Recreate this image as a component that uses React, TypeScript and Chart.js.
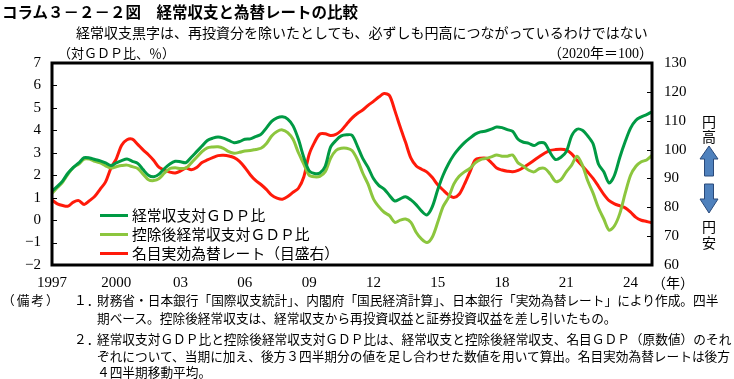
import React, { useEffect, useRef } from "react";
import { Chart, registerables } from "chart.js";
Chart.register(...registerables);

const startYear = 1997;
const quarterCount = 113;
const categories: string[] = Array.from(
  { length: quarterCount },
  (_, i) => `${startYear + Math.floor(i / 4)}Q${(i % 4) + 1}`
);
const xTickLabels = ["1997", "2000", "03", "06", "09", "12", "15", "18", "21", "24"];

// 経常収支対GDP比 (%)
const caRatio = [
  1.3, 1.5, 1.75, 2.1, 2.35, 2.55, 2.78, 2.77, 2.7, 2.64,
  2.55, 2.43, 2.55, 2.65, 2.72, 2.62, 2.53, 2.25, 2.0, 1.93,
  2.05, 2.3, 2.5, 2.62, 2.6, 2.56, 2.8, 3.05, 3.3, 3.55,
  3.65, 3.7, 3.65, 3.55, 3.45, 3.5, 3.6, 3.62, 3.72, 3.82,
  4.1, 4.4, 4.55, 4.6, 4.5, 4.2, 3.6, 2.8, 2.2, 2.08,
  2.1, 2.4, 3.25, 3.55, 3.75, 3.8, 3.78, 3.3, 2.75, 2.35,
  1.85, 1.55, 1.38, 1.1, 0.85, 0.95, 1.04, 0.9, 0.68, 0.4,
  0.23, 0.6, 1.35, 2.0, 2.5, 2.9, 3.2, 3.45, 3.65, 3.83,
  3.93, 3.97, 4.05, 4.15, 4.12, 4.03, 3.95, 3.6, 3.47, 3.42,
  3.32, 3.45, 3.42, 3.0, 2.7, 2.8, 3.05, 3.75, 4.05, 4.0,
  3.75, 3.4, 2.5, 2.15, 1.65, 2.0, 2.8, 3.5, 4.1, 4.45,
  4.6, 4.7, 4.83,
];

// 控除後経常収支対GDP比 (%)
const caAdjRatio = [
  1.2, 1.45, 1.7, 2.05, 2.35, 2.5, 2.72, 2.72, 2.62, 2.55,
  2.42, 2.32, 2.38, 2.43, 2.45, 2.38, 2.3, 2.05, 1.8, 1.76,
  1.85, 2.1, 2.3, 2.33, 2.3, 2.32, 2.55, 2.8, 3.05, 3.22,
  3.26, 3.27, 3.2, 3.05, 2.98, 3.02, 3.08, 3.1, 3.15, 3.2,
  3.4, 3.75, 3.95, 4.02, 3.9, 3.6, 3.0, 2.5, 2.0, 1.93,
  1.95, 2.15, 2.75, 3.1, 3.2, 3.2, 3.1, 2.7, 2.1, 1.6,
  0.95, 0.6, 0.35, 0.2, -0.1, 0.0, 0.05, -0.1, -0.55, -0.85,
  -1.0, -0.75, -0.1, 0.6, 1.0, 1.6, 1.95, 2.15, 2.3, 2.55,
  2.7, 2.75, 2.82, 2.9, 2.85, 2.85, 2.9, 2.55, 2.4, 2.22,
  2.15, 2.3, 2.3, 2.05, 1.72, 1.8, 2.15, 2.45, 2.85, 2.45,
  1.75, 1.2, 0.55, 0.05, -0.45, -0.25, 0.3, 1.2, 2.0, 2.4,
  2.6, 2.68, 2.88,
];

// 名目実効為替レート (2020年=100, 右目盛)
const neer = [
  82.5, 81.2, 80.6, 80.4, 81.8, 82.3, 81.0, 82.3, 83.8, 86.3,
  88.8, 93.6, 96.8, 101.5, 103.4, 103.6, 101.8, 99.9, 98.2, 96.2,
  93.8, 92.9, 92.2, 91.9, 92.6, 93.6, 93.0, 93.8, 95.5, 96.4,
  97.2, 97.9, 98.0, 97.8, 97.2, 95.9, 93.8, 91.3, 89.3, 87.9,
  86.2, 84.2, 83.2, 82.8, 83.7, 85.2, 86.6, 90.5, 98.3, 102.5,
  105.4, 105.5, 104.9, 105.3, 106.6, 108.8, 110.9, 112.5, 113.7, 115.3,
  116.7, 118.2, 119.4, 118.7, 113.5, 107.8, 102.5, 97.0, 94.3, 93.2,
  92.2, 90.3, 87.8, 86.0, 84.3, 83.4, 84.5, 88.0, 92.2, 96.4,
  97.0, 97.0, 95.5, 93.6, 92.9, 92.5, 92.3, 92.8, 93.8, 95.0,
  96.3, 97.6, 98.8, 99.7, 100.0, 100.1, 99.8, 98.5, 96.3, 94.3,
  92.2, 90.0, 87.3, 84.5, 82.3, 81.2, 80.5, 79.8, 78.3, 76.5,
  75.5, 75.1, 74.6,
];

const legendLabels = [
  "経常収支対ＧＤＰ比",
  "控除後経常収支対ＧＤＰ比",
  "名目実効為替レート（目盛右）",
];
const colors = ["#009a44", "#8cc63e", "#ff1a0a"];

const CJK = "'Noto Sans CJK JP', sans-serif";
const SERIF = "'Liberation Serif', 'Times New Roman', serif";
const MIXED = "'Liberation Serif', 'Noto Sans CJK JP', serif";

const framePlugin = {
  id: "frame",
  afterDraw(chart: any) {
    const { ctx, chartArea: a, scales } = chart;
    ctx.save();
    ctx.strokeStyle = "#000";
    ctx.lineWidth = 1;
    scales.y.ticks.forEach((_: any, i: number) => {
      const y = Math.round(scales.y.getPixelForTick(i)) + 0.5;
      ctx.beginPath();
      ctx.moveTo(a.left, y);
      ctx.lineTo(a.left + 5, y);
      ctx.stroke();
    });
    scales.y2.ticks.forEach((_: any, i: number) => {
      const y = Math.round(scales.y2.getPixelForTick(i)) + 0.5;
      ctx.beginPath();
      ctx.moveTo(a.right - 5, y);
      ctx.lineTo(a.right, y);
      ctx.stroke();
    });
    ctx.lineWidth = 3;
    ctx.strokeRect(a.left, a.top, a.right - a.left, a.bottom - a.top);
    ctx.restore();
  },
};

export default function App() {
  const ref = useRef<HTMLCanvasElement>(null);

  useEffect(() => {
    const chart = new Chart(ref.current!, {
      type: "line",
      data: {
        labels: categories,
        datasets: [
          {
            label: legendLabels[0],
            data: caRatio,
            borderColor: colors[0],
            borderWidth: 3,
            pointRadius: 0,
            tension: 0.3,
            yAxisID: "y",
          },
          {
            label: legendLabels[1],
            data: caAdjRatio,
            borderColor: colors[1],
            borderWidth: 3,
            pointRadius: 0,
            tension: 0.3,
            yAxisID: "y",
          },
          {
            label: legendLabels[2],
            data: neer,
            borderColor: colors[2],
            borderWidth: 3,
            pointRadius: 0,
            tension: 0.3,
            yAxisID: "y2",
          },
        ],
      },
      options: {
        responsive: false,
        devicePixelRatio: 1,
        animation: false,
        layout: { padding: { top: 63, left: 0, right: 0, bottom: 0 } },
        plugins: { legend: { display: false }, tooltip: { enabled: false } },
        scales: {
          x: {
            type: "category",
            offset: false,
            grid: { display: false, drawTicks: false },
            border: { display: false },
            ticks: {
              autoSkip: false,
              maxRotation: 0,
              minRotation: 0,
              padding: 9,
              color: "#000",
              font: { family: SERIF, size: 15 },
              callback: (_v: any, i: number) =>
                i % 12 === 0 ? xTickLabels[i / 12] : null,
            },
            afterFit: (s: any) => {
              s.height = 114;
            },
          },
          y: {
            position: "left",
            min: -2,
            max: 7,
            grid: { display: false, drawTicks: false },
            border: { display: false },
            ticks: {
              stepSize: 1,
              padding: 11,
              color: "#000",
              font: { family: SERIF, size: 15 },
              callback: (v: any) => String(v).replace("-", "−"),
            },
            afterFit: (s: any) => {
              s.width = 52;
            },
          },
          y2: {
            position: "right",
            min: 60,
            max: 130,
            grid: { display: false, drawTicks: false },
            border: { display: false },
            ticks: {
              stepSize: 10,
              padding: 12,
              color: "#000",
              font: { family: SERIF, size: 15 },
            },
            afterFit: (s: any) => {
              s.width = 82;
            },
          },
        },
      },
      plugins: [framePlugin],
    } as any);
    return () => chart.destroy();
  }, []);

  const abs = (left: number, top: number, extra: any = {}) => ({
    position: "absolute" as const,
    left,
    top,
    whiteSpace: "nowrap" as const,
    color: "#000",
    ...extra,
  });

  const noteStyle = { fontFamily: CJK, fontSize: 12.7, lineHeight: "15px" };
  const legendTop = [215, 234, 253];

  return (
    <div
      style={{
        position: "absolute",
        left: 0,
        top: 0,
        width: 734,
        height: 379,
        background: "#fff",
        overflow: "hidden",
        fontFamily: CJK,
      }}
    >
      <canvas
        ref={ref}
        width={734}
        height={379}
        style={{ position: "absolute", left: 0, top: 0, width: 734, height: 379 }}
      />
      <div style={abs(2, 2, { fontSize: 15.5, fontWeight: 700, lineHeight: "18px" })}>
        コラム３－２－２図　経常収支と為替レートの比較
      </div>
      <div style={abs(76, 23, { fontSize: 14, lineHeight: "18px" })}>
        経常収支黒字は、再投資分を除いたとしても、必ずしも円高につながっているわけではない
      </div>
      <div style={abs(58, 45, { fontSize: 13, lineHeight: "18px", fontFamily: MIXED })}>
        （対ＧＤＰ比、％）
      </div>
      <div style={abs(548, 45, { fontSize: 14, lineHeight: "18px", fontFamily: MIXED })}>
        （2020年＝100）
      </div>
      <div style={abs(652, 275, { fontSize: 14, lineHeight: "18px", fontFamily: MIXED })}>
        （年）
      </div>

      {legendLabels.map((t, i) => (
        <React.Fragment key={t}>
          <div
            style={{
              position: "absolute",
              left: 100,
              top: legendTop[i] - 1.5,
              width: 28,
              height: 3,
              background: colors[i],
            }}
          />
          <div style={abs(132, legendTop[i] - 9, { fontSize: 14.8, lineHeight: "18px" })}>{t}</div>
        </React.Fragment>
      ))}

      <div style={abs(702, 113, { fontSize: 14, lineHeight: "16px" })}>円</div>
      <div style={abs(702, 128, { fontSize: 14, lineHeight: "16px" })}>高</div>
      <svg
        width={30}
        height={80}
        style={{ position: "absolute", left: 694, top: 144 }}
        viewBox="0 0 30 80"
      >
        <polygon
          points="15,2 24,15 19.5,15 19.5,32 10.5,32 10.5,15 6,15"
          fill="#4f81bd"
          stroke="#2a4a7a"
          strokeWidth={1}
        />
        <polygon
          points="10.5,40 19.5,40 19.5,55 24,55 15,69 6,55 10.5,55"
          fill="#4f81bd"
          stroke="#2a4a7a"
          strokeWidth={1}
        />
      </svg>
      <div style={abs(702, 218, { fontSize: 14, lineHeight: "16px" })}>円</div>
      <div style={abs(702, 234, { fontSize: 14, lineHeight: "16px" })}>安</div>

      <div style={abs(2, 292, { ...noteStyle, letterSpacing: 2 })}>（備考）</div>
      <div style={abs(74, 292, noteStyle)}>１．</div>
      <div style={abs(97, 292, noteStyle)}>
        財務省・日本銀行「国際収支統計」、内閣府「国民経済計算」、日本銀行「実効為替レート」により作成。四半
      </div>
      <div style={abs(97, 310, noteStyle)}>
        期ベース。控除後経常収支は、経常収支から再投資収益と証券投資収益を差し引いたもの。
      </div>
      <div style={abs(74, 331, noteStyle)}>２．</div>
      <div style={abs(97, 331, noteStyle)}>
        経常収支対ＧＤＰ比と控除後経常収支対ＧＤＰ比は、経常収支と控除後経常収支、名目ＧＤＰ（原数値）のそれ
      </div>
      <div style={abs(97, 348, noteStyle)}>
        ぞれについて、当期に加え、後方３四半期分の値を足し合わせた数値を用いて算出。名目実効為替レートは後方
      </div>
      <div style={abs(97, 364, noteStyle)}>４四半期移動平均。</div>
    </div>
  );
}
